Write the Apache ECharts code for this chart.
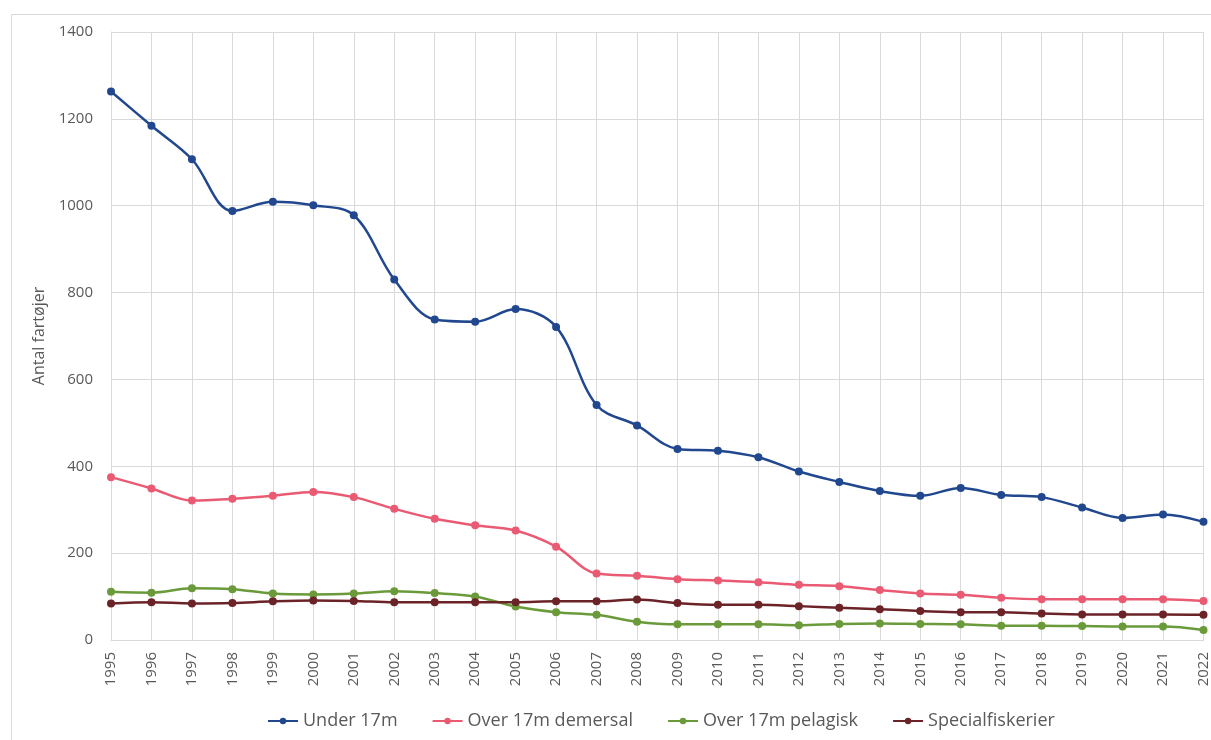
<!DOCTYPE html>
<html>
<head>
<meta charset="utf-8">
<script src="https://cdn.jsdelivr.net/npm/echarts@6/dist/echarts.min.js"></script>
<style>
html,body{margin:0;padding:0;background:#fff;}
#chart{width:1211px;height:740px;}
</style>
</head>
<body>
<div id="chart"></div>
<script>
const years = ['1995','1996','1997','1998','1999','2000','2001','2002','2003','2004','2005','2006','2007','2008','2009','2010','2011','2012','2013','2014','2015','2016','2017','2018','2019','2020','2021','2022'];
const under17 = [1263,1184,1107,988,1009,1001,978,830,738,733,762,721,541,494,440,436,421,388,364,343,332,350,334,329,305,281,289,272];
const over17Demersal = [375,349,321,325,332,341,329,302,279,264,252,215,153,148,140,137,133,127,124,115,107,104,97,94,94,94,94,90];
const over17Pelagisk = [111,109,119,117,107,105,107,112,108,100,77,64,58,42,36,36,36,34,37,38,37,36,33,33,32,31,31,23];
const specialfiskerier = [84,87,84,85,89,91,90,87,87,87,87,89,89,93,85,81,81,78,74,71,67,64,64,61,59,59,59,58];

const FONT = '"Open Sans", "Liberation Sans", sans-serif';
function series(name, data, color) {
  return {
    name: name, type: 'line', data: data, smooth: 0.35,
    symbol: 'circle', symbolSize: 8,
    lineStyle: {color: color, width: 2.5},
    itemStyle: {color: color}
  };
}
const chart = echarts.init(document.getElementById('chart'));
chart.setOption({
  animation: false,
  backgroundColor: '#fff',
  graphic: [{
    type: 'rect', left: 9, top: 12, silent: true, z: -10,
    shape: {width: 1300, height: 800},
    style: {fill: 'none', stroke: '#d9d9d9', lineWidth: 1}
  }],
  grid: {left: 111, right: 4, top: 32, bottom: 100},
  legend: {
    left: 262, top: 707, itemGap: 34, itemWidth: 30, itemHeight: 8,
    textStyle: {color: '#595959', fontSize: 18, fontFamily: FONT},
    data: ['Under 17m','Over 17m demersal','Over 17m pelagisk','Specialfiskerier']
  },
  xAxis: {
    type: 'category', data: years, boundaryGap: false,
    axisLine: {lineStyle: {color: '#d9d9d9'}},
    axisTick: {show: false},
    axisLabel: {rotate: 90, color: '#595959', fontSize: 15, fontFamily: FONT, margin: 12, interval: 0},
    splitLine: {show: true, lineStyle: {color: '#d9d9d9', width: 1}}
  },
  yAxis: {
    type: 'value', min: 0, max: 1400, interval: 200,
    name: 'Antal fartøjer', nameLocation: 'middle', nameGap: 62, nameRotate: 90,
    nameTextStyle: {color: '#595959', fontSize: 16, fontFamily: FONT},
    axisLine: {show: true, lineStyle: {color: '#d9d9d9'}},
    axisTick: {show: false},
    axisLabel: {color: '#595959', fontSize: 15, fontFamily: FONT, margin: 18, formatter: function (v) { return String(v); }},
    splitLine: {show: true, lineStyle: {color: '#d9d9d9', width: 1}}
  },
  series: [
    series('Under 17m', under17, '#21488f'),
    series('Over 17m demersal', over17Demersal, '#ea5b73'),
    series('Over 17m pelagisk', over17Pelagisk, '#6a9a3a'),
    series('Specialfiskerier', specialfiskerier, '#6b2328')
  ]
});
</script>
</body>
</html>
